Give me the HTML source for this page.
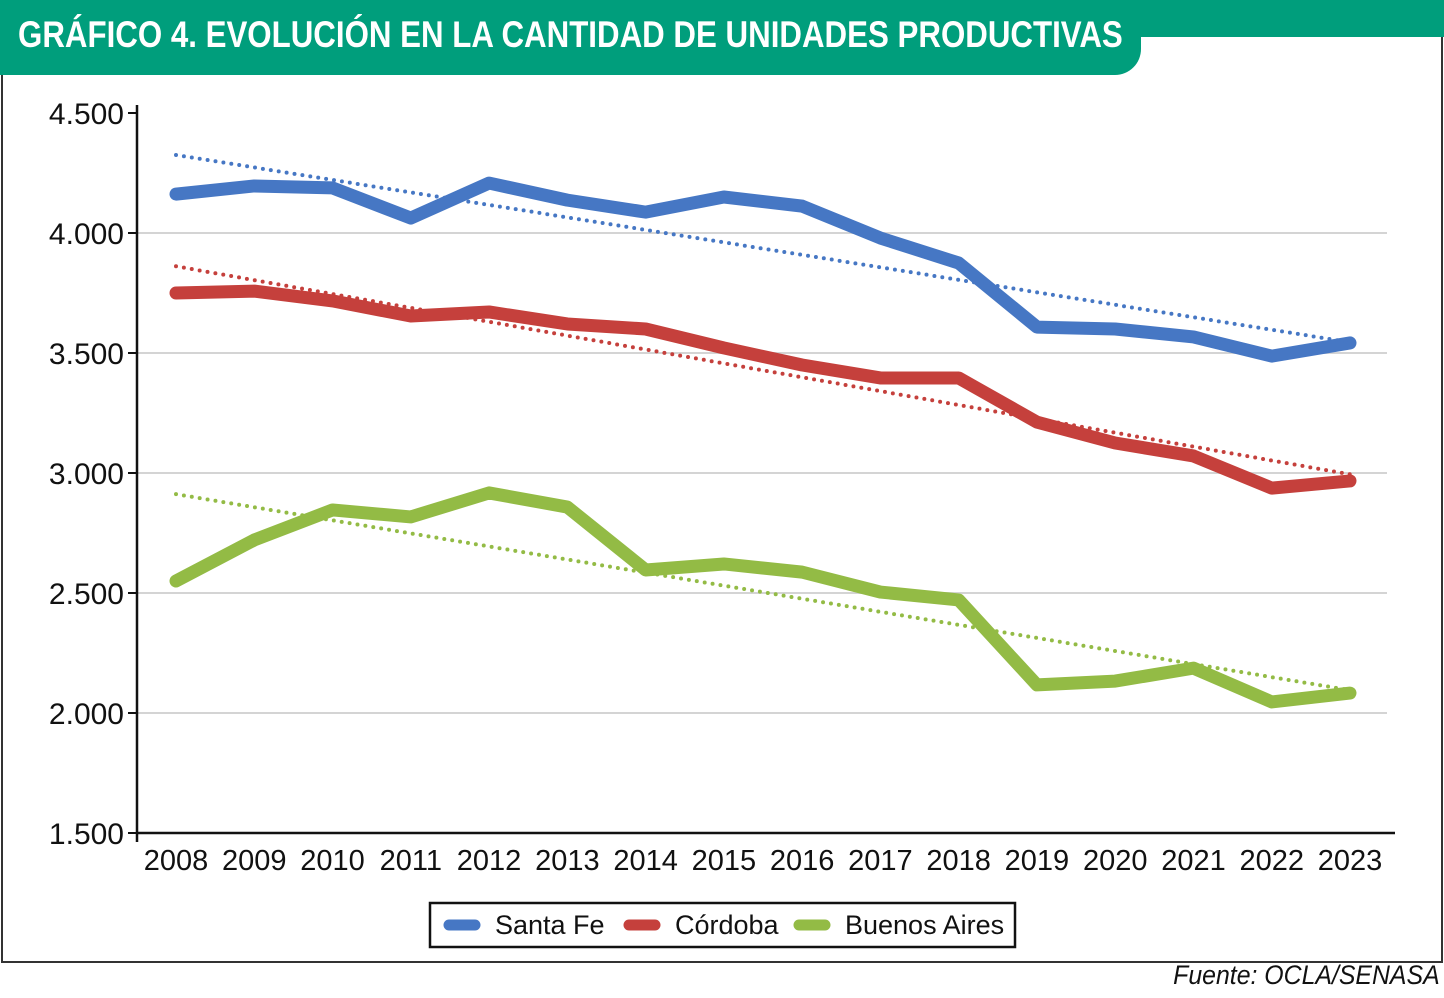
<!DOCTYPE html>
<html><head><meta charset="utf-8"><style>
html,body{margin:0;padding:0;background:#fff;}
body{width:1444px;height:998px;position:relative;overflow:hidden;font-family:"Liberation Sans",sans-serif;}
#frame{position:absolute;left:1px;top:1px;width:1438px;height:958px;border:2px solid #333;}
#band{position:absolute;left:0;top:0;width:1444px;height:37px;background:#009e7c;}
#tab{position:absolute;left:0;top:0;width:1141px;height:75px;background:#009e7c;border-bottom-right-radius:26px;}
#title{position:absolute;left:18px;top:14px;color:#fff;font:bold 37px "Liberation Sans Narrow","Liberation Sans",sans-serif;transform:scaleX(0.845);transform-origin:left top;white-space:nowrap;}
#src{position:absolute;right:4px;top:960px;font:italic 27px "Liberation Sans",sans-serif;color:#111;transform:scaleX(0.92);transform-origin:right top;}
svg{position:absolute;left:0;top:0;}
</style></head><body>
<div id="frame"></div>
<div id="band"></div>
<div id="tab"></div>
<div id="title">GRÁFICO 4. EVOLUCIÓN EN LA CANTIDAD DE UNIDADES PRODUCTIVAS</div>
<div id="src">Fuente: OCLA/SENASA</div>
<svg id="chart" width="1444" height="998"></svg>
<script>
const years=["2008","2009","2010","2011","2012","2013","2014","2015","2016","2017","2018","2019","2020","2021","2022","2023"];
const santaFe=[4162,4196,4188,4062,4208,4137,4087,4150,4112,3979,3875,3608,3600,3567,3487,3542];
const cordoba=[3750,3758,3717,3654,3671,3621,3600,3521,3450,3396,3396,3212,3125,3071,2937,2967];
const buenosAires=[2550,2721,2846,2817,2917,2858,2596,2621,2587,2504,2471,2117,2133,2187,2046,2083];
const yTicks=[1500,2000,2500,3000,3500,4000,4500];
const yTickLabels=["1.500","2.000","2.500","3.000","3.500","4.000","4.500"];
const NS="http://www.w3.org/2000/svg";
const svg=document.getElementById('chart');
const X0=176,X1=1350,Y0=833,Y1=113;
const xs=i=>X0+(X1-X0)*i/(years.length-1);
const ys=v=>Y0-(v-1500)/(4500-1500)*(Y0-Y1);
function mk(t,a){const e=document.createElementNS(NS,t);for(const k in a)e.setAttribute(k,a[k]);svg.appendChild(e);return e;}
yTicks.forEach((v,i)=>{
  if(v>1500&&v<4500){const g=mk('line',{x1:137,x2:1387,y1:ys(v),y2:ys(v),stroke:'#d4d4d4','stroke-width':2});
  
  }
  const t=mk('line',{x1:128,x2:137,y1:ys(v),y2:ys(v),stroke:'#111','stroke-width':2});
  
  
  const l=mk('text',{x:124,y:ys(v)+11,'text-anchor':'end','font-size':30,fill:'#111','font-family':'Liberation Sans Narrow, Liberation Sans, sans-serif'});
  l.textContent=yTickLabels[i];
  
  
});
const ax=mk('line',{x1:137,x2:137,y1:105,y2:842,stroke:'#111','stroke-width':2.5});


const bx=mk('line',{x1:137,x2:1395,y1:Y0,y2:Y0,stroke:'#111','stroke-width':2.5});


years.forEach((y,i)=>{
  const l=mk('text',{x:xs(i),y:870,'text-anchor':'middle','font-size':29,fill:'#111','font-family':'Liberation Sans Narrow, Liberation Sans, sans-serif'});
  l.textContent=y;
  
  
});
function trend(d){const n=d.length;let sx=0,sy=0,sxx=0,sxy=0;d.forEach((v,i)=>{sx+=i;sy+=v;sxx+=i*i;sxy+=i*v;});const b=(n*sxy-sx*sy)/(n*sxx-sx*sx);const a=(sy-b*sx)/n;return [a,a+b*(n-1)];}
const series=[["santa-fe",santaFe,"#4677c4"],["cordoba",cordoba,"#c5403c"],["buenos-aires",buenosAires,"#93bb45"]];
series.forEach(([n,d,c])=>{
  const p=mk('polyline',{points:d.map((v,i)=>xs(i)+','+ys(v)).join(' '),fill:'none',stroke:c,'stroke-width':13,'stroke-linejoin':'round','stroke-linecap':'round'});
  
  
});
series.forEach(([n,d,c])=>{
  const [a,b]=trend(d);
  const t=mk('line',{x1:xs(0),y1:ys(a),x2:xs(d.length-1),y2:ys(b),stroke:c,'stroke-width':4,'stroke-dasharray':'0 8','stroke-linecap':'round'});
  
  
});
const lg=mk('rect',{x:430,y:903,width:585,height:44,fill:'#fff',stroke:'#111','stroke-width':2.5});


const names=["Santa Fe","Córdoba","Buenos Aires"];const lx=[449,629,799];
series.forEach(([n,d,c],i)=>{
  const s=mk('line',{x1:lx[i],x2:lx[i]+26,y1:925,y2:925,stroke:c,'stroke-width':11,'stroke-linecap':'round'});
  
  
  const t=mk('text',{x:lx[i]+46,y:934,'font-size':27,fill:'#111','font-family':'Liberation Sans Narrow, Liberation Sans, sans-serif'});
  t.textContent=names[i];
  
  
});
</script>
</body></html>
